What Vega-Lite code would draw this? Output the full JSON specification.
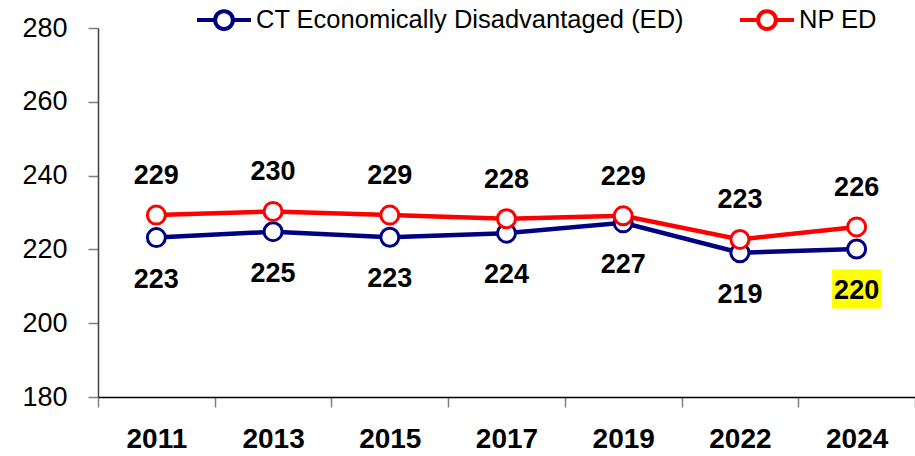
{
  "$schema": "https://vega.github.io/schema/vega-lite/v6.json",
  "autosize": {"type": "none"},
  "padding": {"left": 98, "top": 28, "right": 0, "bottom": 59},
  "width": 817,
  "height": 369,
  "background": "white",
  "config": {"view": {"stroke": null}, "font": "Liberation Sans"},
  "data": {
    "values": [
      {"year": "2011", "series": "CT Economically Disadvantaged (ED)", "value": 223.2},
      {"year": "2013", "series": "CT Economically Disadvantaged (ED)", "value": 224.8},
      {"year": "2015", "series": "CT Economically Disadvantaged (ED)", "value": 223.3},
      {"year": "2017", "series": "CT Economically Disadvantaged (ED)", "value": 224.4},
      {"year": "2019", "series": "CT Economically Disadvantaged (ED)", "value": 227.2},
      {"year": "2022", "series": "CT Economically Disadvantaged (ED)", "value": 219.1},
      {"year": "2024", "series": "CT Economically Disadvantaged (ED)", "value": 220.1},
      {"year": "2011", "series": "NP ED", "value": 229.3},
      {"year": "2013", "series": "NP ED", "value": 230.3},
      {"year": "2015", "series": "NP ED", "value": 229.3},
      {"year": "2017", "series": "NP ED", "value": 228.3},
      {"year": "2019", "series": "NP ED", "value": 229.1},
      {"year": "2022", "series": "NP ED", "value": 222.7},
      {"year": "2024", "series": "NP ED", "value": 226.1}
    ]
  },
  "encoding": {
    "x": {
      "field": "year",
      "type": "ordinal",
      "sort": null,
      "scale": {"paddingInner": 0, "paddingOuter": 0},
      "axis": {
        "title": null,
        "labelAngle": 0,
        "labelFont": "Liberation Sans",
        "labelFontSize": 28,
        "labelFontWeight": "bold",
        "labelColor": "black",
        "domainColor": "black",
        "domainWidth": 1.5,
        "tickColor": "#808080",
        "tickSize": 10,
        "tickWidth": 1.5,
        "tickBand": "extent",
        "labelPadding": 18
      }
    },
    "y": {
      "field": "value",
      "type": "quantitative",
      "scale": {"domain": [180, 280], "nice": false, "zero": false},
      "axis": {
        "title": null,
        "values": [180, 200, 220, 240, 260, 280],
        "grid": false,
        "labelFont": "Liberation Sans",
        "labelFontSize": 27,
        "labelColor": "black",
        "domainColor": "#404040",
        "domainWidth": 1.5,
        "tickColor": "#808080",
        "tickSize": 10,
        "tickWidth": 1.5,
        "labelPadding": 21
      }
    }
  },
  "layer": [
    {
      "mark": {"type": "line", "strokeWidth": 4.5},
      "encoding": {
        "color": {
          "field": "series",
          "type": "nominal",
          "scale": {"domain": ["CT Economically Disadvantaged (ED)", "NP ED"], "range": ["#000080", "#FF0000"]},
          "legend": {
            "orient": "none",
            "legendX": 97,
            "legendY": -37,
            "direction": "horizontal",
            "title": null,
            "symbolType": "M-1,0H-0.33M0.33,0H1M-0.33,0A0.33,0.33 0 1,0 0.33,0A0.33,0.33 0 1,0 -0.33,0",
            "symbolSize": 2916,
            "symbolStrokeWidth": 4,
            "symbolFillColor": "white",
            "labelFont": "Liberation Sans",
            "labelFontSize": 25.5,
            "labelColor": "black",
            "labelOffset": 3,
            "labelLimit": 700,
            "columnPadding": 48
          }
        }
      }
    },
    {
      "mark": {"type": "point", "shape": "circle", "filled": true, "fill": "white", "strokeWidth": 3, "size": 324, "opacity": 1},
      "encoding": {
        "stroke": {
          "field": "series",
          "type": "nominal",
          "scale": {"domain": ["CT Economically Disadvantaged (ED)", "NP ED"], "range": ["#000080", "#FF0000"]},
          "legend": null
        }
      }
    },
    {
      "transform": [{"filter": "datum.series == 'CT Economically Disadvantaged (ED)' && datum.year == '2024'"}],
      "mark": {"type": "point", "shape": "M-1.26,-1H1.26V1H-1.26Z", "filled": true, "fill": "#FFFF00", "strokeWidth": 0, "size": 1521, "opacity": 1, "yOffset": 40}
    },
    {
      "transform": [{"filter": "datum.series == 'NP ED'"}],
      "mark": {"type": "text", "dy": -39, "fontSize": 27, "fontWeight": "bold", "font": "Liberation Sans", "color": "black"},
      "encoding": {"text": {"field": "value", "type": "quantitative", "format": ".0f"}}
    },
    {
      "transform": [{"filter": "datum.series == 'CT Economically Disadvantaged (ED)'"}],
      "mark": {"type": "text", "dy": 42, "fontSize": 27, "fontWeight": "bold", "font": "Liberation Sans", "color": "black"},
      "encoding": {"text": {"field": "value", "type": "quantitative", "format": ".0f"}}
    }
  ]
}
